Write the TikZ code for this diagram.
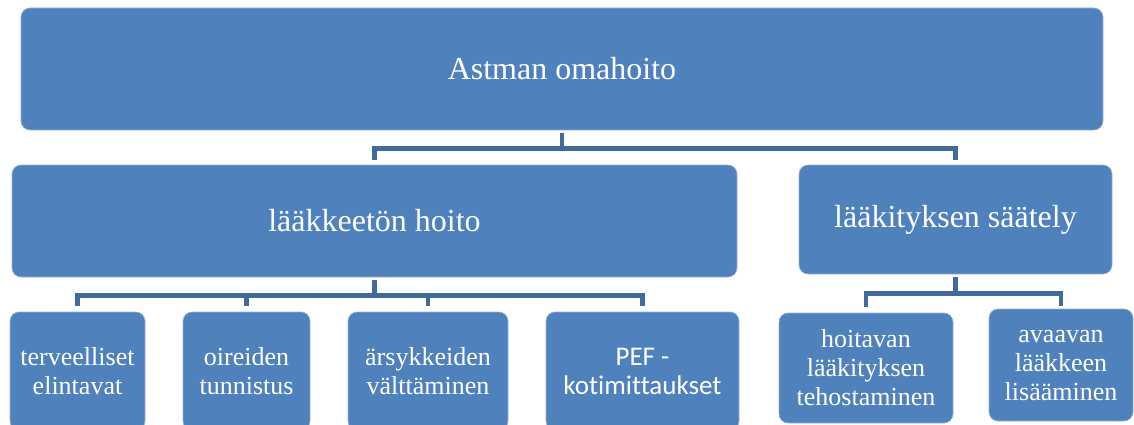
\documentclass[tikz,border=0pt]{standalone}
\usepackage{fontspec}
\setmainfont{Liberation Serif}
\newfontfamily\calib[Ligatures=NoCommon]{Carlito}
\usetikzlibrary{calc}
\definecolor{boxblue}{RGB}{79,129,189}
\definecolor{linkblue}{RGB}{65,106,156}
\tikzset{
  box/.style={fill=boxblue, draw=boxblue!60!white, line width=0.6pt, rounded corners=9pt, text=white, align=center, inner sep=0pt},
  bigtxt/.style={font=\fontsize{32}{38}\selectfont},
  smalltxt/.style={font=\fontsize{26}{29}\selectfont},
  link/.style={draw=linkblue, line width=4.5pt, line cap=butt, line join=miter}
}
\begin{document}
\begin{tikzpicture}[x=1pt,y=-1pt]
\useasboundingbox (0,0) rectangle (1134,425);
\clip (0,0) rectangle (1134,425);
% top
\node[box,bigtxt,minimum width=1082pt,minimum height=122pt] (top) at (562,69) {Astman omahoito};
% second row
\node[box,bigtxt,minimum width=725pt,minimum height=112pt] (lh) at (374.5,221) {lääkkeetön hoito};
\node[box,bigtxt,minimum width=313pt,minimum height=109pt] (ls) at (955.5,219.5) {lääkityksen säätely};
% bottom row
\node[box,smalltxt,minimum width=135pt,minimum height=118pt] (b1) at (77.5,371) {terveelliset\\elintavat};
\node[box,smalltxt,minimum width=127pt,minimum height=118pt] (b2) at (246.5,371) {oireiden\\tunnistus};
\node[box,smalltxt,minimum width=160pt,minimum height=118pt] (b3) at (428,371) {ärsykkeiden\\välttäminen};
\node[box,font=\calib\fontsize{27}{29}\selectfont,minimum width=193pt,minimum height=118pt] (b4) at (642.5,371) {PEF -\\kotimittaukset};
\node[box,smalltxt,minimum width=174pt,minimum height=110pt] (b5) at (866,368) {hoitavan\\lääkityksen\\tehostaminen};
\node[box,smalltxt,minimum width=144pt,minimum height=112pt] (b6) at (1061,365) {avaavan\\lääkkeen\\lisääminen};
% connectors top -> second
\coordinate (j1) at ($(top.south)+(0,18)$);
\path[link] ($(top.south)+(0,3)$) -- (j1);
\path[link] ($(lh.north)+(0,-5)$) |- (j1) -| ($(ls.north)+(0,-5)$);
% lh -> bottom
\coordinate (j2) at ($(lh.south)+(0,18)$);
\path[link] ($(lh.south)+(0,3)$) -- (j2);
\path[link] ($(b1.north)+(0,-6)$) |- (j2) -| ($(b4.north)+(0,-6)$);
\path[link] ($(b2.north)+(0,-6)$) -- (b2.north |- j2);
\path[link] ($(b3.north)+(0,-6)$) -- (b3.north |- j2);
% ls -> bottom
\coordinate (j3) at ($(ls.south)+(0,19)$);
\path[link] ($(ls.south)+(0,3)$) -- (j3);
\path[link] ($(b5.north)+(0,-6)$) |- (j3) -| ($(b6.north)+(0,-3)$);
\end{tikzpicture}
\end{document}
